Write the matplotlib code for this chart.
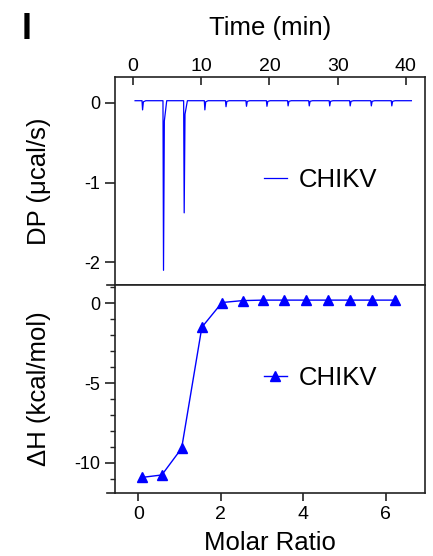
import matplotlib
matplotlib.use("Agg")
import matplotlib.pyplot as plt
import numpy as np

plt.rcParams['font.family'] = ['Liberation Sans', 'DejaVu Sans']

# raw ITC thermogram: injection times (min) and peak minima (ucal/s)
inj_time = [1.37, 4.44, 7.47, 10.5, 13.6, 16.6, 19.6, 22.7, 25.8, 28.8, 31.8, 34.9, 37.9]
inj_peak = [-0.09, -2.10, -1.38, -0.09, -0.05, -0.045, -0.045, -0.04, -0.04, -0.04, -0.04, -0.04, -0.04]
baseline = 0.025
trace_start, trace_end = 0.3, 40.8

# integrated heats
molar_ratio = [0.10, 0.57, 1.05, 1.54, 2.03, 2.53, 3.03, 3.54, 4.06, 4.59, 5.12, 5.66, 6.21]
dH = [-10.9, -10.75, -9.08, -1.5, 0.05, 0.17, 0.2, 0.2, 0.2, 0.2, 0.2, 0.2, 0.2]

BLUE = '#0000ff'
SPINE = '#222222'

# spike outline for each injection
t = [trace_start]
dp = [baseline]
for ti, pk in zip(inj_time, inj_peak):
    t += [ti - 0.05, ti + 0.03, ti + 0.15, ti + 0.5]
    dp += [baseline, pk, baseline + (pk - baseline) * 0.12, baseline]
t.append(trace_end)
dp.append(baseline)

fig = plt.figure(figsize=(4.33, 5.56), dpi=100)
ax1 = fig.add_axes([0.2656, 0.4874, 0.716, 0.3741])
ax2 = fig.add_axes([0.2656, 0.1133, 0.716, 0.3741])

ax1.plot(t, dp, color=BLUE, lw=0.9, label='CHIKV')
ax1.set_xlim(-2.64, 42.8)
ax1.set_ylim(-2.284, 0.322)
ax1.xaxis.tick_top()
ax1.xaxis.set_label_position('top')
ax1.set_xticks([0, 10, 20, 30, 40])
ax1.set_yticks([0, -1, -2])
ax1.set_yticklabels(['0', '-1', '-2'])
ax1.tick_params(axis='x', direction='in', length=6, width=1.2, pad=1.5,
                labelsize=14, color=SPINE)
ax1.tick_params(axis='y', direction='out', length=7, width=1.2, pad=3.5,
                labelsize=13, color=SPINE)
ax1.set_xlabel('Time (min)', fontsize=18.5)
ax1.xaxis.set_label_coords(0.5, 1.202)
ax1.set_ylabel('DP (\u03bccal/s)', fontsize=18.5)
ax1.yaxis.set_label_coords(-0.206, 0.5)
ax1.legend(loc='center left', bbox_to_anchor=(0.48, 0.507), frameon=False,
           fontsize=18.5, handlelength=0.9, handletextpad=0.45,
           borderpad=0, borderaxespad=0)

ax2.plot(molar_ratio, dH, color=BLUE, lw=1.0, marker='^', ms=6.5,
         mfc=BLUE, mec=BLUE, label='CHIKV')
ax2.set_xlim(-0.565, 6.95)
ax2.set_ylim(-11.88, 1.146)
ax2.set_xticks([0, 2, 4, 6])
ax2.set_yticks([0, -5, -10])
ax2.set_yticklabels(['0', '-5', '-10'])
ax2.set_yticks(np.arange(-11, 2, 1), minor=True)
ax2.tick_params(axis='x', direction='out', length=6, width=1.2, pad=3.5,
                labelsize=14, color=SPINE)
ax2.tick_params(axis='y', which='major', direction='out', length=7, width=1.2,
                pad=3.5, labelsize=13, color=SPINE)
ax2.tick_params(axis='y', which='minor', direction='out', length=3.5, width=1.0,
                color=SPINE)
ax2.set_xlabel('Molar Ratio', fontsize=18.5)
ax2.xaxis.set_label_coords(0.5, -0.185)
ax2.set_ylabel('\u0394H (kcal/mol)', fontsize=18.5)
ax2.yaxis.set_label_coords(-0.206, 0.5)
ax2.legend(loc='center left', bbox_to_anchor=(0.48, 0.552), frameon=False,
           fontsize=18.5, handlelength=0.9, handletextpad=0.45,
           borderpad=0, borderaxespad=0)

for ax in (ax1, ax2):
    for s in ax.spines.values():
        s.set_linewidth(1.2)
        s.set_color(SPINE)
    # little stub of the frame poking out at the lower left corner
    ax.plot([-0.026, 0], [0, 0], transform=ax.transAxes, clip_on=False,
            color=SPINE, lw=1.2)

fig.text(22 / 433, 1 - 39 / 556, 'I', fontsize=26, fontweight='bold',
         ha='left', va='baseline')

fig.savefig('out.png', dpi=100)
